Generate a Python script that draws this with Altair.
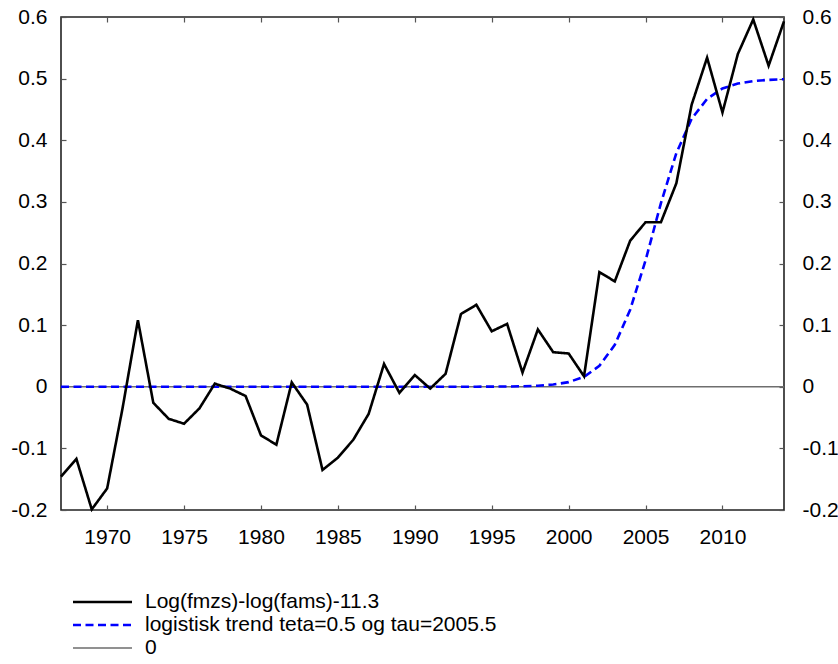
import altair as alt
import pandas as pd

# Years on the horizontal axis
years = list(range(1967, 2015))

# Log(fmzs)-log(fams)-11.3, one value per year 1967..2014
gap_values = [
    -0.146, -0.117, -0.199, -0.165, -0.035, 0.108, -0.026, -0.052, -0.060, -0.035,
    0.005, -0.003, -0.015, -0.079, -0.094, 0.007, -0.029, -0.135, -0.115, -0.086,
    -0.044, 0.037, -0.010, 0.019, -0.003, 0.021, 0.118, 0.133, 0.090, 0.102,
    0.023, 0.093, 0.056, 0.054, 0.017, 0.186, 0.171, 0.237, 0.267, 0.267,
    0.330, 0.458, 0.534, 0.445, 0.540, 0.596, 0.521, 0.593,
]

# Logistic trend (teta=0.5, tau=2005.5), one value per year 1967..2014
trend_values = [
    0.0, 0.0, 0.0, 0.0, 0.0, 0.0, 0.0, 0.0, 0.0, 0.0,
    0.0, 0.0, 0.0, 0.0, 0.0, 0.0, 0.0, 0.0, 0.0, 0.0,
    0.0, 0.0, 0.0, 0.0, 0.0, 0.0, 0.0, 0.0001, 0.0002, 0.0004,
    0.0008, 0.0017, 0.0036, 0.0075, 0.016, 0.034, 0.068, 0.125, 0.205, 0.298,
    0.379, 0.435, 0.467, 0.484, 0.492, 0.496, 0.498, 0.499,
]

# Reference line at zero
zero_values = [0.0] * len(years)

series_names = [
    "Log(fmzs)-log(fams)-11.3",
    "logistisk trend teta=0.5 og tau=2005.5",
    "0",
]
series_colors = ["#000000", "#0000ff", "#6e6e6e"]
series_dashes = [[1, 0], [8, 4.5], [1, 0]]
series_widths = [2.6, 2.6, 1.5]

x_ticks = [1970, 1975, 1980, 1985, 1990, 1995, 2000, 2005, 2010]
y_ticks = [-0.2, -0.1, 0.0, 0.1, 0.2, 0.3, 0.4, 0.5, 0.6]

FONT = "Liberation Sans"
FS = 21
W, H = 723, 493


def frame(values, name):
    return pd.DataFrame({"year": years, "value": values, "series": name})


df_gap = frame(gap_values, series_names[0])
df_trend = frame(trend_values, series_names[1])
df_zero = frame(zero_values, series_names[2])

x_scale = alt.Scale(domain=[1967, 2014], nice=False, zero=False)
y_scale = alt.Scale(domain=[-0.2, 0.6], nice=False, zero=False)

y_label_expr = "datum.value == 0 ? '0' : toString(round(datum.value * 10) / 10)"


def axis(orient, labels=True, padding=0, values=None, expr=None, fmt=None):
    kw = dict(
        orient=orient,
        title=None,
        offset=-5,
        tickSize=5,
        tickColor="#555555",
        tickWidth=1.2,
        domain=False,
        grid=False,
        labels=labels,
        values=values,
        labelFont=FONT,
        labelFontSize=FS,
        labelColor="#000000",
        labelPadding=padding,
    )
    if expr is not None:
        kw["labelExpr"] = expr
    if fmt is not None:
        kw["format"] = fmt
    return alt.Axis(**kw)


def line_layer(df, i, x_axis, y_axis):
    return alt.Chart(df).mark_line(
        color=series_colors[i],
        strokeDash=series_dashes[i],
        strokeWidth=series_widths[i],
    ).encode(
        x=alt.X("year:Q", scale=x_scale, axis=x_axis),
        y=alt.Y("value:Q", scale=y_scale, axis=y_axis),
    )


# Zero line carries the bottom and left axes
zero_layer = line_layer(
    df_zero, 2,
    axis("bottom", labels=True, padding=16, values=x_ticks, fmt="d"),
    axis("left", labels=True, padding=14, values=y_ticks, expr=y_label_expr),
)

# Trend line carries the top and right axes
trend_layer = line_layer(
    df_trend, 1,
    axis("top", labels=False, values=x_ticks),
    axis("right", labels=True, padding=18, values=y_ticks, expr=y_label_expr),
)

gap_layer = line_layer(df_gap, 0, None, None)

# Legend below the plot: a line sample and a label per series
legend_rows_y = [585, 608, 631]
legend_layers = []
for i, name in enumerate(series_names):
    row = pd.DataFrame({"label": [name]})
    sample = alt.Chart(row).mark_rule(
        color=series_colors[i],
        strokeDash=series_dashes[i],
        strokeWidth=series_widths[i],
    ).encode(
        x=alt.value(12), x2=alt.value(71), y=alt.value(legend_rows_y[i])
    )
    label = alt.Chart(row).mark_text(
        align="left", baseline="middle", font=FONT, fontSize=FS, color="#000000"
    ).encode(
        x=alt.value(84), y=alt.value(legend_rows_y[i]), text="label:N"
    )
    legend_layers += [sample, label]

chart = (
    alt.layer(zero_layer, trend_layer, gap_layer, *legend_layers)
    .resolve_axis(x="independent", y="independent")
    .properties(
        width=W,
        height=H,
        autosize=alt.AutoSizeParams(type="none"),
        padding={"left": 61, "top": 17, "right": 54, "bottom": 154},
        background="#ffffff",
    )
    .configure_view(stroke="#222222", strokeWidth=1.6)
)

chart.save("out.html", embed_options={"renderer": "svg", "actions": False})
